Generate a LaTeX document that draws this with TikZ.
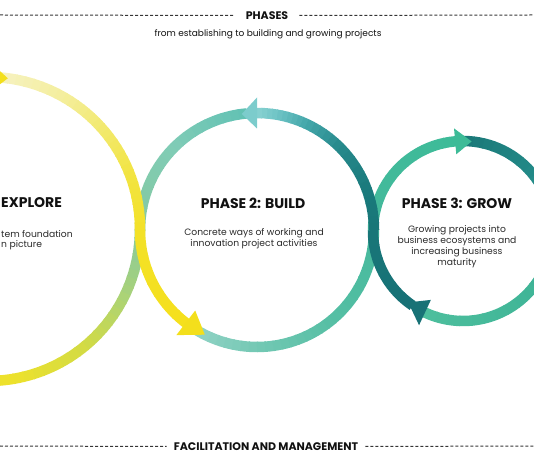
\documentclass[tikz,border=0pt]{standalone}
\usepackage{fontspec}
\setmainfont{Poppins}
\usetikzlibrary{calc}
% strand A (yellow, circle 1 -> circle 2)
\definecolor{aA}{HTML}{F6F2C2}
\definecolor{aB}{HTML}{F4EE9C}
\definecolor{aC}{HTML}{F2E96C}
\definecolor{aD}{HTML}{F2E440}
\definecolor{aE}{HTML}{F3E128}
\definecolor{aF}{HTML}{F5E01C}
% strand B (green -> yellow, circle 2 -> circle 1)
\definecolor{bA}{HTML}{62C2B4}
\definecolor{bB}{HTML}{80CCB6}
\definecolor{bC}{HTML}{85C9A0}
\definecolor{bD}{HTML}{A9D279}
\definecolor{bE}{HTML}{D2DB44}
\definecolor{bF}{HTML}{EDE12C}
\definecolor{yel}{HTML}{F2E126}
% strand C (pale teal -> green, circle 2 -> circle 3)
\definecolor{cA}{HTML}{92D3C6}
\definecolor{cB}{HTML}{74C8B4}
\definecolor{cC}{HTML}{55BFA4}
\definecolor{cD}{HTML}{45B99C}
\definecolor{cE}{HTML}{3DBB98}
% strand D (dark teal -> light turquoise, circle 3 -> circle 2)
\definecolor{dA}{HTML}{177176}
\definecolor{dB}{HTML}{187678}
\definecolor{dC}{HTML}{1A7A7C}
\definecolor{dD}{HTML}{26898B}
\definecolor{dE}{HTML}{44A7AA}
\definecolor{dF}{HTML}{6FC4C6}
\definecolor{dG}{HTML}{88D2D2}
% strand E (circle 3)
\definecolor{eA}{HTML}{1B7878}
\definecolor{eB}{HTML}{238A88}
\definecolor{eC}{HTML}{3FB497}
\definecolor{eD}{HTML}{4DBF9D}
% arrowheads
\definecolor{hYel}{HTML}{F3DF1C}
\definecolor{hTur}{HTML}{7CCCCC}
\definecolor{hGrn}{HTML}{3DBB97}
\definecolor{hTeal}{HTML}{187276}
\definecolor{ink}{HTML}{111111}

% gradient arc: center, radius, start angle, end angle, colour A, colour B, segments
\newcommand{\garc}[7]{%
  \foreach \k in {1,...,#7}{%
    \pgfmathsetmacro{\sa}{#3+(#4-#3)*(\k-1)/#7}%
    \pgfmathsetmacro{\ea}{#3+(#4-#3)*\k/#7+sign(#4-#3)*0.5}%
    \pgfmathtruncatemacro{\pc}{100*(\k-0.5)/#7}%
    \colorlet{segc}{#6!\pc!#5}%
    \draw[ring, draw=segc] ($(#1)+(\sa:#2)$) arc[start angle=\sa, end angle=\ea, radius=#2];
  }%
}
% arrowhead: center, radius, base angle, tip angle, half width, colour
\newcommand{\ahead}[6]{%
  \pgfmathsetmacro{\rin}{#2-#5}%
  \pgfmathsetmacro{\rout}{#2+#5}%
  \fill[#6] ($(#1)+(#3:\rin)$) -- ($(#1)+(#3:\rout)$) -- ($(#1)+(#4:#2)$) -- cycle;
}

\begin{document}
\begin{tikzpicture}[x=1pt,y=1pt,
  ring/.style={line width=10.5pt, line cap=butt},
  dashline/.style={draw=ink!85, line width=1pt, dash pattern=on 3pt off 2pt},
  headline/.style={font=\bfseries\fontsize{11}{13}\selectfont, text=ink, inner xsep=11pt},
  title/.style={font=\bfseries\fontsize{14}{16}\selectfont, text=ink, inner sep=0pt},
  desc/.style={font=\fontsize{9.2}{11}\selectfont, text=ink!90, align=center, inner sep=0pt}]
\useasboundingbox (0,0) rectangle (534,462);
\clip (0,0) rectangle (534,462);

\coordinate (C1) at (-12,233);
\coordinate (C2) at (257,232);
\coordinate (C3) at (463,231);

% strand B: circle 2 upper left -> circle 1 lower right, bottom, left
\garc{C2}{117}{95}{135}{bA}{bB}{10}
\garc{C2}{117}{135}{180}{bB}{bC}{12}
\garc{C1}{152}{0}{-25}{bC}{bD}{8}
\garc{C1}{152}{-25}{-50}{bD}{bE}{8}
\garc{C1}{152}{-50}{-80}{bE}{bF}{8}
\garc{C1}{152}{-80}{-270.7}{bF}{yel}{6}

% strand C: circle 2 bottom -> circle 3 upper left
\garc{C2}{117}{238}{270}{cA}{cB}{8}
\garc{C2}{117}{270}{310}{cB}{cC}{10}
\garc{C2}{117}{310}{360}{cC}{cD}{10}
\garc{C3}{90}{180}{95}{cD}{cE}{12}

% strand E: circle 3 right and bottom
\garc{C3}{90}{90}{38}{eA}{eB}{8}
\garc{C3}{90}{38}{-38}{eB}{eC}{10}
\garc{C3}{90}{-38}{-115}{eC}{eD}{10}

% strand A: circle 1 upper right -> circle 2 lower left
\garc{C1}{152}{86}{60}{aA}{aB}{8}
\garc{C1}{152}{60}{40}{aB}{aC}{8}
\garc{C1}{152}{40}{20}{aC}{aD}{8}
\garc{C1}{152}{20}{0}{aD}{aE}{8}
\garc{C2}{117}{180}{232.5}{aE}{aF}{8}

% strand D: circle 3 lower left -> circle 2 upper right
\garc{C3}{90}{236}{180}{dA}{dB}{6}
\garc{C2}{117}{0}{20}{dB}{dC}{6}
\garc{C2}{117}{20}{45}{dC}{dD}{6}
\garc{C2}{117}{45}{65}{dD}{dE}{6}
\garc{C2}{117}{65}{80}{dE}{dF}{6}
\garc{C2}{117}{80}{90}{dF}{dG}{4}

% arrowheads
\ahead{C1}{152}{89.3}{82.5}{15}{hYel}
\ahead{C2}{117}{90}{97.5}{15.5}{hTur}
\ahead{C2}{117}{232.5}{243.5}{15.5}{hYel}
\ahead{C3}{90}{95}{84.5}{13}{hGrn}
\ahead{C3}{90}{245}{232.5}{14}{hTeal}

% header and footer
\node[headline] (phases) at (267,446.5) {PHASES};
\coordinate (hl) at (0,447);
\coordinate (hr) at (534,447);
\draw[dashline] (hl) -- (phases.west);
\draw[dashline] (phases.east) -- (hr);
\node[font=\fontsize{9}{11}\selectfont, text=ink] (sub) at (268,427.5) {from establishing to building and growing projects};

\node[headline, inner xsep=7pt] (facil) at (266,15.5) {FACILITATION AND MANAGEMENT};
\coordinate (fl) at (0,16);
\coordinate (fr) at (534,16);
\draw[dashline] (fl) -- (facil.west);
\draw[dashline] (facil.east) -- (fr);

% phase texts
\node[title, anchor=west] (t1) at (1,259) {EXPLORE};
\node[desc, anchor=west] (d1a) at (1,228) {tem foundation};
\node[desc, anchor=west] (d1b) at (1,217) {n picture};

\node[title] (t2) at (253,259) {PHASE 2: BUILD};
\node[desc] (d2) at (254,223) {Concrete ways of working and\\innovation project activities};

\node[title] (t3) at (457,259) {PHASE 3: GROW};
\node[desc] (d3) at (457,215) {Growing projects into\\business ecosystems and\\increasing business\\maturity};
\end{tikzpicture}
\end{document}
